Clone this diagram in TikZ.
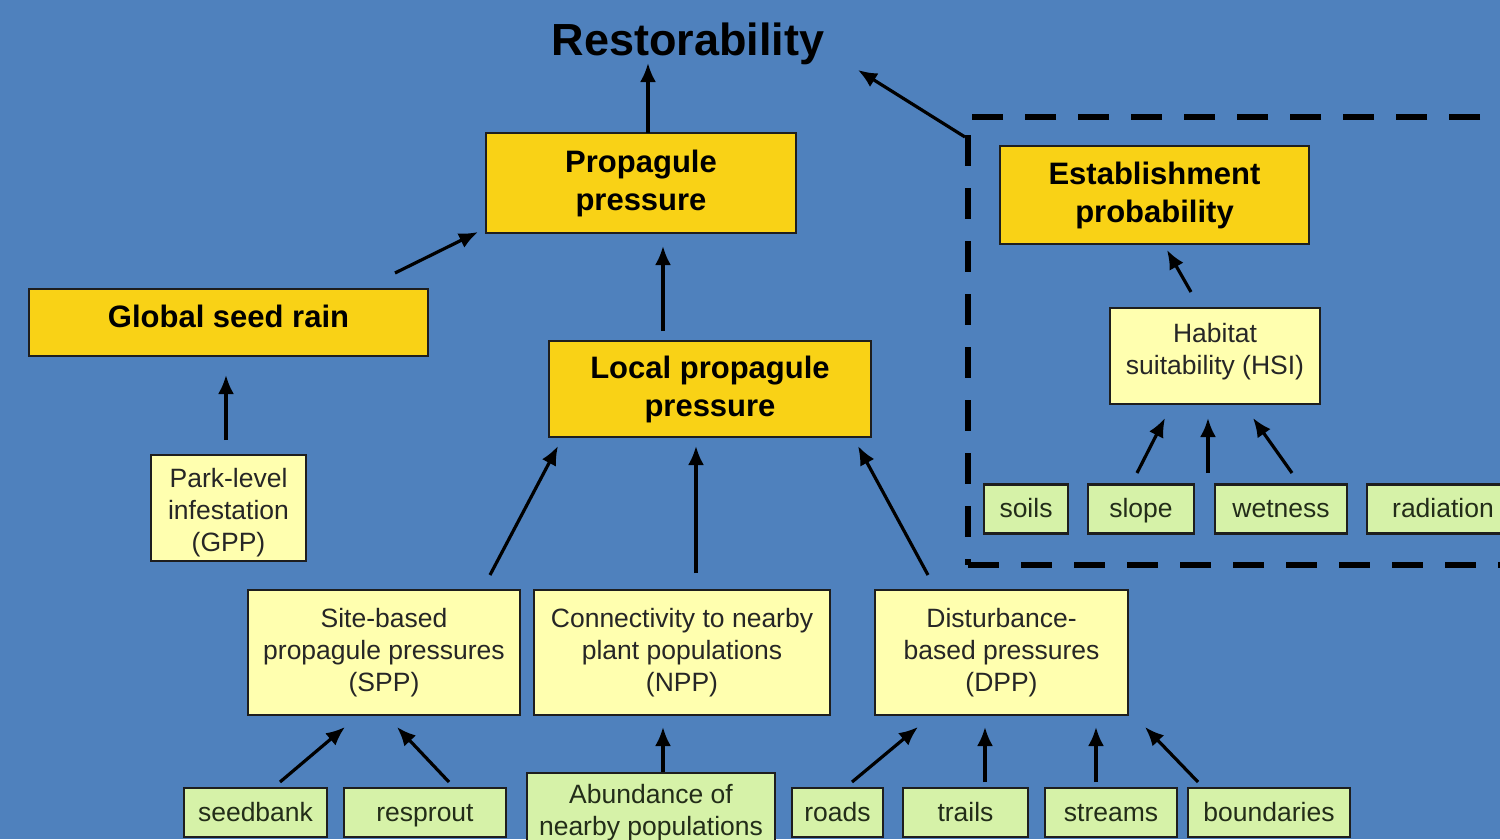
\documentclass[tikz,border=0pt]{standalone}
\usepackage{fontspec}
\setmainfont{Liberation Sans}
\usetikzlibrary{arrows.meta,calc}
\definecolor{slideblue}{RGB}{79,129,189}
\definecolor{gold}{RGB}{249,210,22}
\definecolor{paleyellow}{RGB}{255,255,175}
\definecolor{palegreen}{RGB}{214,242,168}
\definecolor{edge}{RGB}{30,30,30}
\definecolor{leaftext}{RGB}{35,45,25}

\begin{document}
\begin{tikzpicture}[x=1pt, y=-1pt,
  box/.style = {shape=rectangle, draw=edge, line width=2.5pt,
    inner sep=0pt, align=center},
  main/.style = {box, fill=gold, font=\fontsize{31}{38}\selectfont\bfseries},
  factor/.style = {box, fill=paleyellow, text=black!85,
    font=\fontsize{26.5}{32}\selectfont},
  leaf/.style = {box, fill=palegreen, text=leaftext, minimum height=49pt,
    font=\fontsize{26.5}{32}\selectfont},
  word/.style = {leaf, text height=22pt, text depth=5pt},
  arr/.style = {-{Latex[length=19pt,width=16pt]}, line width=3.2pt}]
  \useasboundingbox (0,0) rectangle (1500,839);
  \fill[slideblue] (0,0) rectangle (1500,839);
  \clip (0,0) rectangle (1500,839);

  % top level
  \node[font=\fontsize{45}{54}\selectfont\bfseries] (restor) at (688,44) {Restorability};
  \node[main, minimum width=310pt, minimum height=100pt] (prop) at (641,183) {Propagule\\pressure};
  \node[main, minimum width=399pt, minimum height=67pt, text depth=12pt] (global) at (228.5,322.5) {Global seed rain};
  \node[main, minimum width=322pt, minimum height=96pt] (local) at (710,389) {Local propagule\\pressure};

  % establishment side
  \node[draw=black, dash pattern=on 31pt off 22pt, line width=6pt, inner sep=0pt,
    minimum width=562pt, minimum height=448pt] (estzone) at (1249,341) {};
  \node[main, minimum width=309pt, minimum height=98pt] (estab) at (1154.5,195) {Establishment\\probability};
  \node[factor, minimum width=210pt, minimum height=96pt, text height=46pt, text depth=10pt] (hsi) at (1215,356) {Habitat\\suitability (HSI)};
  \node[word, minimum width=84pt] (soils) at (1026,509) {soils};
  \node[word, minimum width=106pt] (slope) at (1141,509) {slope};
  \node[word, minimum width=132pt] (wetness) at (1281,509) {wetness};
  \node[word, minimum width=152pt] (radiation) at (1443,509) {radiation};

  % propagule factors
  \node[factor, minimum width=155pt, minimum height=106pt, text height=96pt, text depth=10pt] (gpp) at (228.5,508) {Park-level\\infestation\\(GPP)};
  \node[factor, minimum width=272pt, minimum height=125pt] (spp) at (384,652.5) {Site-based\\propagule pressures\\(SPP)};
  \node[factor, minimum width=296pt, minimum height=125pt] (npp) at (682,652.5) {Connectivity to nearby\\plant populations\\(NPP)};
  \node[factor, minimum width=253pt, minimum height=125pt] (dpp) at (1001.5,652.5) {Disturbance-\\based pressures\\(DPP)};

  % bottom row
  \node[word, minimum width=143pt] (seedbank) at (255.5,812.5) {seedbank};
  \node[word, minimum width=162pt] (resprout) at (425,812.5) {resprout};
  \node[leaf, minimum width=248pt, minimum height=80pt] (abund) at (651,813) {Abundance of\\nearby populations};
  \node[word, minimum width=91pt] (roads) at (837.5,812.5) {roads};
  \node[word, minimum width=125pt] (trails) at (965.5,812.5) {trails};
  \node[word, minimum width=132pt] (streams) at (1111,812.5) {streams};
  \node[word, minimum width=162pt] (bounds) at (1269,812.5) {boundaries};

  % arrows
  \draw[arr] ($(prop)+(7,-50)$) -- ($(restor)+(-40,19)$);
  \draw[arr] ($(estzone.north west)+(0,23)$) -- ($(restor)+(170,26)$);
  \draw[arr] ($(global)+(166.5,-49.5)$) -- ($(prop)+(-163,49)$);
  \draw[arr] ($(local)+(-47,-58)$) -- ($(prop)+(22,63)$);
  \draw[arr] ($(gpp)+(-2.5,-68)$) -- ($(global)+(-2.5,52.5)$);
  \draw[arr] ($(spp)+(106,-77.5)$) -- ($(local)+(-152,57)$);
  \draw[arr] ($(npp)+(14,-79.5)$) -- ($(local)+(-14,57)$);
  \draw[arr] ($(dpp)+(-73.5,-77.5)$) -- ($(local)+(148,57)$);
  \draw[arr] ($(hsi)+(-24,-64)$) -- ($(estab)+(12.5,55)$);
  \draw[arr] ($(slope)+(-4,-36)$) -- ($(hsi)+(-50,62)$);
  \draw[arr] ($(slope)+(67,-36)$) -- ($(hsi)+(-7,62)$);
  \draw[arr] ($(wetness)+(11,-36)$) -- ($(hsi)+(38,62)$);
  \draw[arr] ($(seedbank)+(24.5,-30.5)$) -- ($(spp)+(-39,74.5)$);
  \draw[arr] ($(resprout)+(24,-30.5)$) -- ($(spp)+(13,74.5)$);
  \draw[arr] ($(abund)+(12,-41)$) -- ($(npp)+(-19,74.5)$);
  \draw[arr] ($(roads)+(14.5,-30.5)$) -- ($(dpp)+(-83.5,74.5)$);
  \draw[arr] ($(trails)+(19.5,-30.5)$) -- ($(dpp)+(-16.5,74.5)$);
  \draw[arr] ($(streams)+(-15,-30.5)$) -- ($(dpp)+(94.5,74.5)$);
  \draw[arr] ($(bounds)+(-71,-30.5)$) -- ($(dpp)+(143.5,74.5)$);
\end{tikzpicture}
\end{document}
